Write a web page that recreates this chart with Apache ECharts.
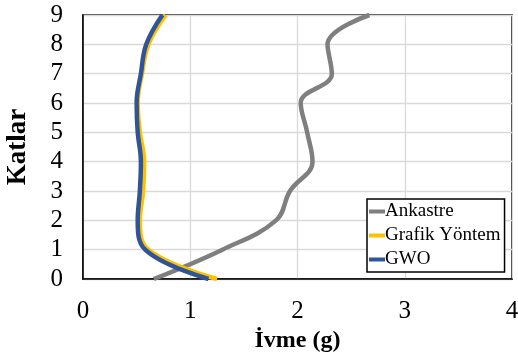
<!DOCTYPE html>
<html>
<head>
<meta charset="utf-8">
<script src="https://cdn.jsdelivr.net/npm/echarts@6/dist/echarts.min.js"></script>
<style>
  html, body { margin: 0; padding: 0; background: #fff; }
  #chart { width: 518px; height: 359px; }
</style>
</head>
<body>
<div id="chart"></div>
<script>
// Floor numbers (vertical axis) and peak floor accelerations in g
const floors = [0, 1, 2, 3, 4, 5, 6, 7, 8, 9];
const ankastre = [0.66, 1.30, 1.80, 1.93, 2.14, 2.09, 2.03, 2.32, 2.28, 2.67];
const grafikYontem = [1.25, 0.61, 0.53, 0.56, 0.57, 0.53, 0.51, 0.55, 0.61, 0.77];
const gwo = [1.17, 0.58, 0.51, 0.53, 0.54, 0.51, 0.50, 0.54, 0.59, 0.74];

const seriesNames = ['Ankastre', 'Grafik Yöntem', 'GWO'];
const seriesColors = ['#7f7f7f', '#ffc000', '#2f5597'];
const seriesValues = [ankastre, grafikYontem, gwo];

const FONT = '"Liberation Serif", "Times New Roman", serif';

const chart = echarts.init(document.getElementById('chart'), null, { renderer: 'canvas' });

const series = seriesNames.map((name, i) => ({
  name: name,
  type: 'line',
  smooth: 0.4,
  symbol: 'none',
  lineStyle: { color: seriesColors[i], width: 4.5 },
  itemStyle: { color: seriesColors[i] },
  data: seriesValues[i].map((v, k) => [v, floors[k]]),
  z: 2 + i
}));

chart.setOption({
  animation: false,
  backgroundColor: '#fff',
  grid: {
    left: 83, right: 6, top: 15, bottom: 80,
    show: true, borderColor: '#000', borderWidth: 1.5,
    containLabel: false,
    outerBoundsMode: 'none'
  },
  legend: {
    orient: 'vertical',
    left: 367, top: 199,
    padding: [3, 4, 3, 2],
    itemGap: 5,
    itemWidth: 16, itemHeight: 4,
    icon: 'rect',
    backgroundColor: '#fff',
    borderColor: '#000', borderWidth: 1.5, borderRadius: 0,
    textStyle: { fontFamily: FONT, fontSize: 19, color: '#000', padding: [0, 0, 0, -5] },
    data: seriesNames
  },
  xAxis: {
    type: 'value',
    min: 0, max: 4, interval: 1,
    name: 'İvme (g)',
    nameLocation: 'middle',
    nameGap: 45,
    nameTextStyle: { fontFamily: FONT, fontSize: 24, fontWeight: 'bold', color: '#000' },
    axisLine: { show: true, lineStyle: { color: '#000', width: 1.5 } },
    axisTick: { show: false },
    axisLabel: { fontFamily: FONT, fontSize: 25, color: '#000', margin: 20 },
    splitLine: { show: true, lineStyle: { color: '#d9d9d9', width: 1.3 } }
  },
  yAxis: {
    type: 'value',
    min: 0, max: 9, interval: 1,
    name: 'Katlar',
    nameLocation: 'middle',
    nameGap: 51,
    nameRotate: 90,
    nameTextStyle: { fontFamily: FONT, fontSize: 27, fontWeight: 'bold', color: '#000' },
    axisLine: { show: true, lineStyle: { color: '#000', width: 1.5 } },
    axisTick: { show: false },
    axisLabel: { fontFamily: FONT, fontSize: 25, color: '#000', margin: 20 },
    splitLine: { show: true, lineStyle: { color: '#d9d9d9', width: 1.3 } }
  },
  series: series
});
</script>
</body>
</html>
